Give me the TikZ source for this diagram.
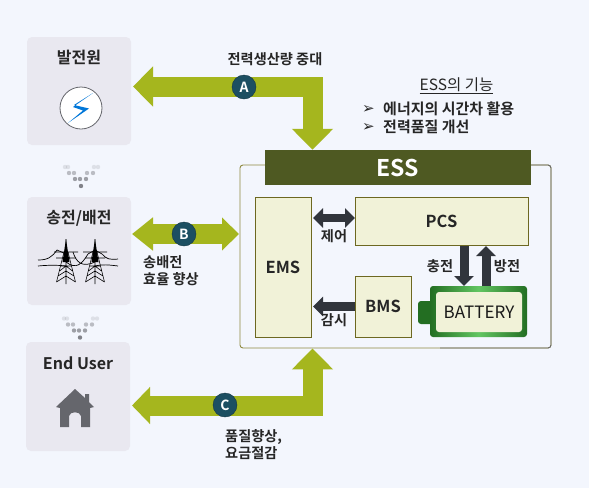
\documentclass[tikz,border=0pt]{standalone}
\usepackage{fontspec}
\setmainfont{Noto Sans CJK KR}[BoldFont={* Bold}]
\newfontfamily\dingfont{DejaVu Sans}
\usepackage{xcolor}
\usepackage{tikz}
\usetikzlibrary{positioning, arrows.meta}
\definecolor{pagebg}{HTML}{F3F6FD}
\definecolor{panelgray}{HTML}{E9E8F0}
\definecolor{arrowgreen}{HTML}{A5B61E}
\definecolor{essolive}{HTML}{4E5922}
\definecolor{cream}{HTML}{F1F2D8}
\definecolor{darkarrow}{HTML}{31353C}
\definecolor{badgeblue}{HTML}{1C4F62}
\definecolor{battgreen}{HTML}{2C8A2B}
\definecolor{inkgray}{HTML}{65666C}
\tikzset{
  panel/.style={fill=panelgray, rounded corners=5pt, minimum width=104pt, minimum height=108pt, inner sep=0pt},
  paneltitle/.style={font=\bfseries\fontsize{16}{16}\selectfont, inner sep=0pt, text=black!85},
  module/.style={draw=olive!70!black, line width=0.6pt, fill=cream, inner sep=0pt, font=\bfseries\fontsize{16.5}{16.5}\selectfont, text=black!85},
  caption/.style={font=\bfseries\fontsize{14.2}{17}\selectfont, inner sep=0pt, align=left, text=black!85},
  badge/.style={circle, fill=badgeblue, draw=badgeblue!70!black, minimum size=24pt, inner sep=0pt, text=white, font=\bfseries\fontsize{14}{14}\selectfont},
  bigflow/.style={arrowgreen, line width=20pt, miter limit=10, line join=miter},
  bigflowboth/.style={arrowgreen, line width=20pt, {Triangle[length=21pt,width=32pt]}-{Triangle[length=17pt,width=32pt]}},
  darkflow/.style={darkarrow, line width=9pt, -{Triangle[length=10pt,width=19pt]}},
  darkflowboth/.style={darkarrow, line width=8pt, {Triangle[length=10pt,width=19pt]}-{Triangle[length=10pt,width=19pt]}}
}
\begin{document}
\begin{tikzpicture}[x=1pt, y=-1pt]
    \fill[pagebg] (0,0) rectangle (589,488);
    \useasboundingbox (0,0) rectangle (589,488);

    % Left column
    \node[panel] (gen) at (79,91) {};
    \node[panel] (grid) at (79,251) {};
    \node[panel, minimum height=109pt] (user) at (78,396.5) {};
    \node[paneltitle] (genT) at (79,57) {발전원};
    \node[paneltitle] (gridT) at (79,218) {송전/배전};
    \node[paneltitle] (userT) at (78,363) {End User};

    % Lightning icon
    \node[circle, draw=inkgray, line width=0.8pt, fill=white, minimum size=42pt, inner sep=0pt] (bolt) at (81,108) {};
    \fill[blue!45!cyan!85!black] (93,93) -- (74,105) -- (89,108.5) -- (68,123) -- (83,110.5) -- (73,107) -- cycle;

    % Towers
    \foreach \tx in {66,95} {
      \draw[black, line width=0.6pt] (\tx,239) -- (\tx,284) (\tx-2,252) -- (\tx-9.5,282) (\tx+2,252) -- (\tx+9.5,282)
        (\tx-12,252) -- (\tx+12,252) (\tx-10,258) -- (\tx+10,258)
        (\tx-9.5,282) -- (\tx,276) -- (\tx+9.5,282)
        (\tx-8,276) -- (\tx,271) -- (\tx+8,276) (\tx-6.5,271) -- (\tx,266) -- (\tx+6.5,271)
        (\tx-5,266) -- (\tx+5,266);
      \fill[black] (\tx,239) -- (\tx-3.5,262) -- (\tx+3.5,262) -- cycle;
    }
    \draw[black, line width=0.7pt]
      (38,260) .. controls (48,260) and (52,257) .. (57,250) -- (66,254)
      (38,266) .. controls (48,265) and (58,265) .. (66,266)
      (73,252) .. controls (76,262) and (82,268) .. (95,262)
      (66,262) .. controls (76,270) and (82,264) .. (88,254)
      (88,254) -- (95,250) -- (102,254) .. controls (106,259) and (110,260) .. (118,259)
      (95,266) .. controls (102,264) and (110,265) .. (118,266);

    % House icon
    \fill[inkgray] (75,389) -- (56,407) -- (60,408) -- (60,427) -- (69,427) -- (69,416) .. controls (70,411) and (80,411) .. (81,416) -- (81,427) -- (90,427) -- (90,408) -- (94,407) -- (89,402) -- (89,394) -- (85,394) -- (85,398) -- cycle;

    % Dots between panels
    \foreach \dx/\dy/\dop in {-16/-9/.15,-13/-9/.15,13/-9/.15,17/-9/.15,-12/-3/.4,-7/-3/.4,6/-3/.4,12/-3/.4,-6/3/.6,-1/3/.6,5/3/.6,0/10/.8} {
      \fill[inkgray, opacity=\dop] (81+\dx,176+\dy) circle (2.2pt);
      \fill[inkgray, opacity=\dop] (80+\dx,327.5+\dy) circle (2.2pt);
    }

    % ESS block
    \node[draw=olive!55!gray, line width=0.9pt, rounded corners=3pt, minimum width=311pt, minimum height=183pt, inner sep=0pt] (frame) at (395.5,256.5) {};
    \draw[gray!85!black, line width=0.9pt, rounded corners=3pt] (520,165) -- (551,165) -- (551,348) -- (440,348);
    \node[fill=essolive, minimum width=266pt, minimum height=35pt, inner sep=0pt, text=white, font=\bfseries\fontsize{23}{23}\selectfont] (ess) at (398,167.5) {ESS};
    \node[module, minimum width=56pt, minimum height=140pt] (ems) at (283,267) {EMS};
    \node[module, minimum width=173pt, minimum height=48pt] (pcs) at (441.5,221) {PCS};
    \node[module, minimum width=56pt, minimum height=61pt] (bms) at (383,306.5) {BMS};
    \fill[battgreen!80!black, rounded corners=3pt] (418,301) rectangle (434,324);
    \node[left color=battgreen!80!black, right color=battgreen!80!black, middle color=battgreen!70!green!70!white, rounded corners=3pt, minimum width=97pt, minimum height=51pt, inner sep=0pt] (batt) at (478.5,311.5) {};
    \node[fill=cream, rounded corners=3pt, minimum width=86pt, minimum height=40pt, inner sep=0pt, font=\fontsize{17}{17}\selectfont, text=black!90] (battT) at (479,312) {BATTERY};

    % Big green arrows
    \coordinate (tipA) at (133,86.5);
    \coordinate (turnA) at (312.5,86.5);
    \coordinate (tipB) at (132,234);
    \coordinate (tipB2) at (239,234);
    \coordinate (tipC) at (132,405.5);
    \coordinate (turnC) at (312.5,405.5);
    \draw[bigflow, {Triangle[length=20pt,width=39pt]}-{Triangle[length=21pt,width=40pt]}] (tipA) -- (turnA) -- (ess.north -| turnA);
    \draw[bigflowboth] (tipB) -- (tipB2);
    \draw[bigflow, {Triangle[length=18pt,width=36pt]}-{Triangle[length=21pt,width=40pt]}] (tipC) -- (turnC) -- (frame.south -| turnA);

    % Badges
    \node[badge] (A) at (244,87) {A};
    \node[badge] (B) at (184,234) {B};
    \node[badge] (C) at (225,405) {C};

    % Dark arrows
    \coordinate (emsT) at (313,218);
    \coordinate (pcsT) at (355,218);
    \draw[darkflowboth] (emsT) -- (pcsT);
    \draw[darkflow] (bms.west) -- (bms.west -| emsT);
    \coordinate (chgA) at (464,246);
    \coordinate (chgB) at (464,286);
    \coordinate (disA) at (486,286);
    \coordinate (disB) at (486,246);
    \draw[darkflow] (chgA) -- (chgB);
    \draw[darkflow] (disA) -- (disB);

    % Labels
    \node[caption] (capA) at (275,59) {전력생산량 중대};
    \node[caption, anchor=west] (capB) at (143,270.5) {송배전\\효율 향상};
    \node[caption, anchor=west] (capC) at (225,444.5) {품질향상,\\요금절감};
    \node[caption] (ctl) at (334,236) {제어};
    \node[caption] (mon) at (334,320) {감시};
    \node[caption] (chg) at (440,266) {충전};
    \node[caption] (dis) at (507,266) {방전};

    % Function list
    \node[caption, font=\fontsize{15.5}{17}\selectfont] (fnT) at (456.5,86) {\underline{ESS의 기능}};
    \node[caption, anchor=west, font=\bfseries\fontsize{15}{17}\selectfont] (fn1) at (383,109) {에너지의 시간차 활용};
    \node[caption, anchor=west, font=\bfseries\fontsize{15}{17}\selectfont] (fn2) at (383,127) {전력품질 개선};
    \node[caption, left=8pt of fn1, font=\dingfont\fontsize{15}{15}\selectfont] (bul1) {➢};
    \node[caption, left=8pt of fn2, font=\dingfont\fontsize{15}{15}\selectfont] (bul2) {➢};
\end{tikzpicture}
\end{document}
